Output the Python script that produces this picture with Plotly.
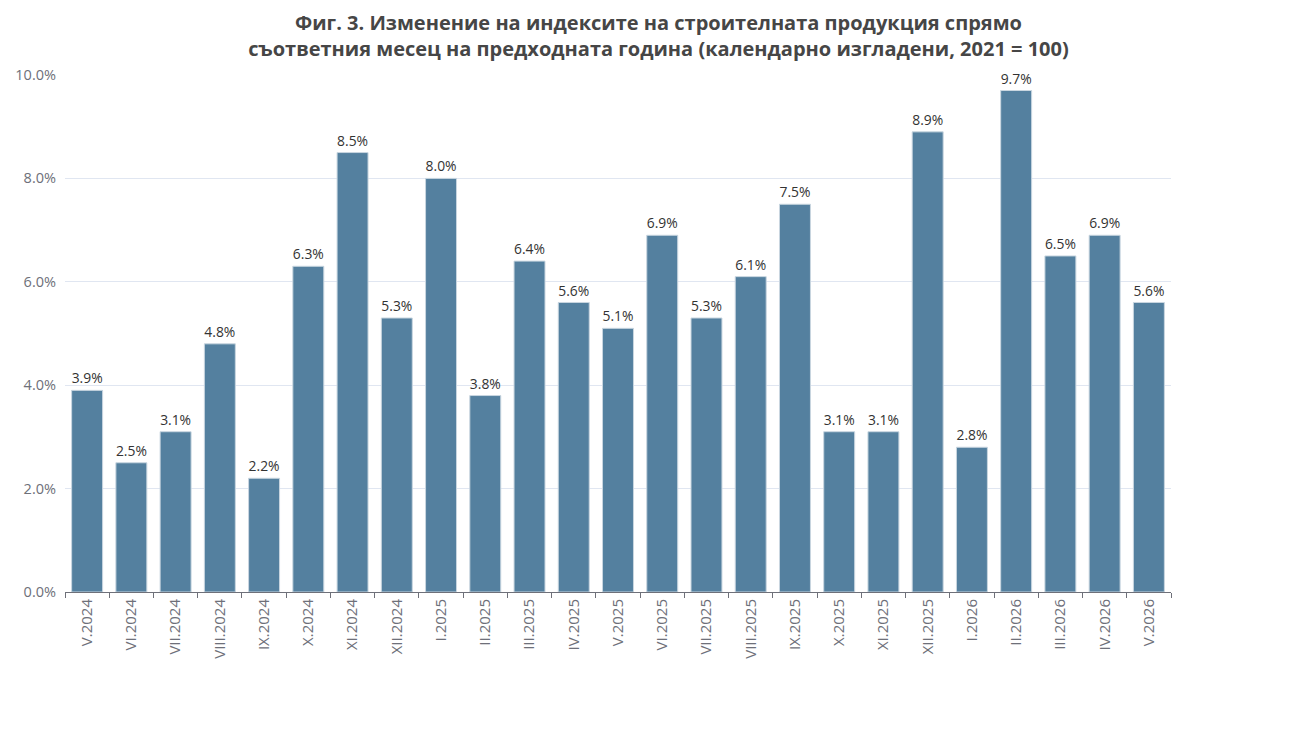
import plotly.graph_objects as go

MONTHS = [
    "V.2024", "VI.2024", "VII.2024", "VIII.2024", "IX.2024", "X.2024",
    "XI.2024", "XII.2024", "I.2025", "II.2025", "III.2025", "IV.2025",
    "V.2025", "VI.2025", "VII.2025", "VIII.2025", "IX.2025", "X.2025",
    "XI.2025", "XII.2025", "I.2026", "II.2026", "III.2026", "IV.2026",
    "V.2026",
]
CHANGE_PCT = [
    3.9, 2.5, 3.1, 4.8, 2.2, 6.3, 8.5, 5.3, 8.0, 3.8, 6.4, 5.6, 5.1,
    6.9, 5.3, 6.1, 7.5, 3.1, 3.1, 8.9, 2.8, 9.7, 6.5, 6.9, 5.6,
]
Y_TICKS = [0, 2, 4, 6, 8, 10]

FONT = "Open Sans, Segoe UI, sans-serif"

fig = go.Figure()
fig.add_trace(go.Bar(
    x=MONTHS,
    y=CHANGE_PCT,
    width=0.7,
    marker=dict(color="#54809f", line=dict(color="#c9d6e0", width=1)),
    text=[f"{v:.1f}%" for v in CHANGE_PCT],
    textposition="outside",
    textfont=dict(size=14, color="#333333", family=FONT),
    cliponaxis=False,
    hovertemplate="%{x}: %{y:.1f}%<extra></extra>",
))

# page body has an 8px default margin, so margins are shifted to compensate
fig.update_layout(
    width=1301,
    height=750,
    margin=dict(l=57, r=138, t=67, b=166, autoexpand=False),
    paper_bgcolor="white",
    plot_bgcolor="white",
    font=dict(family=FONT, color="#333333"),
    title=dict(
        text="Фиг. 3. Изменение на индексите на строителната продукция спрямо<br>"
             "съответния месец на предходната година (календарно изгладени, 2021 = 100)",
        x=0.5, xanchor="center", xref="container",
        y=0.971, yanchor="top", yref="container",
        font=dict(size=20, color="#464646", family=FONT, weight="bold"),
    ),
    showlegend=False,
    bargap=0.3,
)

fig.update_xaxes(
    type="category",
    tickangle=-90,
    tickfont=dict(size=15, color="#6e7079"),
    showline=True, linecolor="#6e7079", linewidth=1,
    ticks="outside", tickson="boundaries", ticklen=5, tickcolor="#6e7079",
    showgrid=False,
)
fig.update_yaxes(
    range=[0, 10],
    tickvals=Y_TICKS,
    ticktext=[f"{v:.1f}%" for v in Y_TICKS],
    tickfont=dict(size=14.5, color="#6e7079"),
    showgrid=True, gridcolor="#e0e6f1", gridwidth=1,
    zeroline=False,
    ticks="", ticklabelstandoff=8,
)

fig.write_html("out.html")
